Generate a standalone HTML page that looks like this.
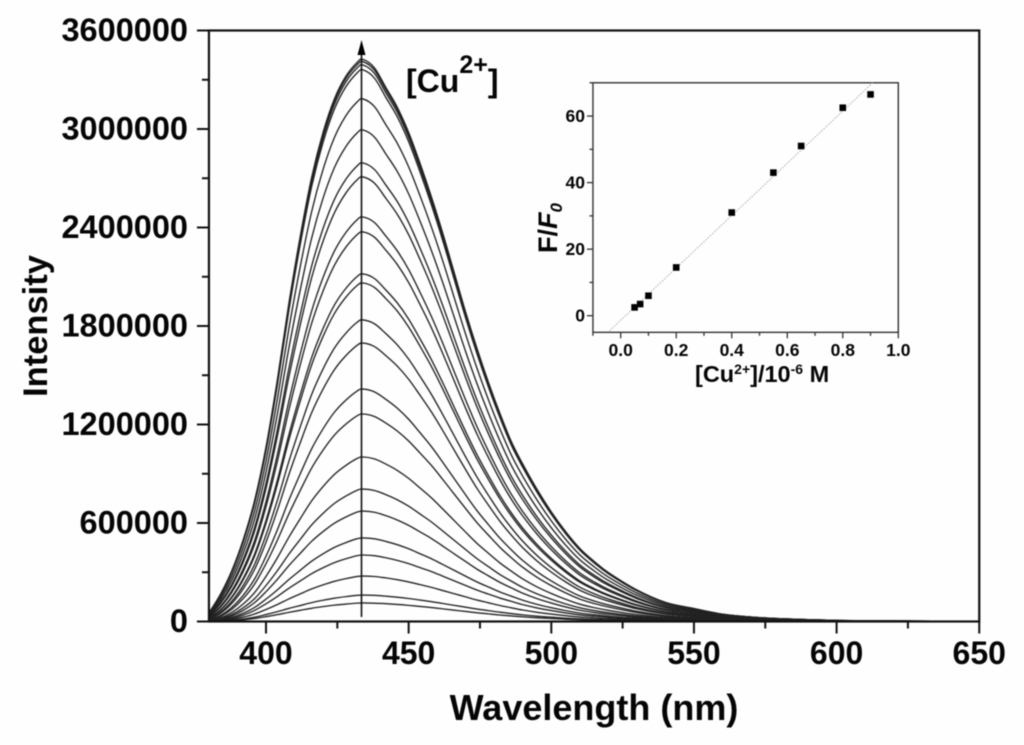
<!DOCTYPE html>
<html lang="en">
<head>
<meta charset="utf-8">
<title>Fluorescence spectra with Cu2+ titration</title>
<style>
html,body{margin:0;padding:0;background:#fefefe;width:1024px;height:745px;overflow:hidden}
svg{display:block;filter:blur(0.45px)}
text{font-family:"Liberation Sans",sans-serif;font-weight:bold;fill:#050505}
</style>
</head>
<body>
<svg id="chart" xmlns="http://www.w3.org/2000/svg" width="1024" height="745" viewBox="0 0 1024 745">
  <g id="curves"></g>
  <g id="axes"></g>
  <line x1="361.5" y1="617" x2="361.5" y2="50" stroke="#111" stroke-width="1.6"/>
  <polygon points="361.5,40 357.5,55 365.5,55" fill="#000"/>
  <text x="406" y="92" font-size="32">[Cu<tspan font-size="25" dy="-19">2+</tspan><tspan dy="19">]</tspan></text>
  <text x="594" y="720" font-size="36" text-anchor="middle">Wavelength (nm)</text>
  <text transform="translate(47,326) rotate(-90)" font-size="34.5" text-anchor="middle">Intensity</text>
  <g id="inset"></g>
  <text x="695" y="382" font-size="23.5">[Cu<tspan font-size="14" dy="-8">2+</tspan><tspan dy="8">]/10</tspan><tspan font-size="14" dy="-8">-6</tspan><tspan dy="8"> M</tspan></text>
  <text transform="translate(557,253) rotate(-90)" font-size="27">F/<tspan font-style="italic">F</tspan><tspan font-style="italic" font-size="17" dy="5">0</tspan></text>
</svg>
<script>
// Main chart data
const wavelengths = [380,384,388,392,396,400,404,408,412,416,420,424,428,432,434,438,442,446,450,454,458,462,466,470,474,478,482,486,490,495,500,505,510,515,520,530,540,550,560,570,580,600,620,650];
const shapeStrong = [.015,.048,.09,.145,.215,.31,.43,.565,.685,.79,.87,.93,.97,.995,1,.985,.95,.915,.87,.815,.755,.69,.62,.55,.485,.425,.37,.32,.28,.235,.195,.16,.13,.107,.087,.056,.034,.023,.013,.008,.005,.002,.001,0];
const shapeWeak = [.002,.01,.04,.09,.16,.26,.37,.49,.6,.71,.8,.88,.94,.99,1,.99,.96,.92,.87,.81,.75,.68,.61,.54,.47,.41,.35,.3,.25,.2,.16,.125,.095,.075,.06,.035,.02,.012,.007,.004,.002,0,0,0];
const peakIntensities = [3424000,3410000,3390000,3360000,3183000,2994000,2793000,2708000,2464000,2373000,2117000,2062000,1837000,1696000,1416000,1264000,1002000,807000,673000,509000,405000,277000,161000,113000];
const xTicks = [400,450,500,550,600,650];
const xMinorTicks = [425,475,525,575,625];
const yTicks = [0,600000,1200000,1800000,2400000,3000000,3600000];
const yMinorTicks = [300000,900000,1500000,2100000,2700000,3300000];

// Inset data
const concentrations = [0.05,0.07,0.1,0.2,0.4,0.55,0.65,0.8,0.9];
const ratios = [2.5,3.5,6,14.5,31,43,51,62.5,66.5];
const fitX = [-0.04,0.908];
const fitY = [-4.5,70];
const insetXTicks = [0,0.2,0.4,0.6,0.8,1];
const insetXMinor = [-0.1,0.1,0.3,0.5,0.7,0.9];
const insetYTicks = [0,20,40,60];
const insetYMinor = [10,30,50,70];

const NS = 'http://www.w3.org/2000/svg';
const xScale = w => 266 + (w - 400) * 2.853;
const yScale = v => 621.5 - v * 98.5 / 600000;
const ixScale = v => 620.7 + v * 277.6;
const iyScale = v => 315.7 - v * 3.3275;
const maxPeak = Math.max(...peakIntensities);

function make(tag, parent) {
  const el = document.createElementNS(NS, tag);
  parent.appendChild(el);
  return el;
}
function drawLine(parent, x1, y1, x2, y2, color, width) {
  const el = make('line', parent);
  el.setAttribute('x1', x1);
  el.setAttribute('y1', y1);
  el.setAttribute('x2', x2);
  el.setAttribute('y2', y2);
  el.setAttribute('stroke', color);
  el.setAttribute('stroke-width', width);
  return el;
}
function drawLabel(parent, x, y, str, size, anchor) {
  const el = make('text', parent);
  el.setAttribute('x', x);
  el.setAttribute('y', y);
  el.setAttribute('font-size', size);
  el.setAttribute('text-anchor', anchor);
  el.textContent = str;
  return el;
}
function smoothPath(pts) {
  let d = 'M' + pts[0][0].toFixed(2) + ' ' + pts[0][1].toFixed(2);
  for (let i = 0; i < pts.length - 1; i++) {
    const p0 = pts[Math.max(i - 1, 0)], p1 = pts[i], p2 = pts[i + 1], p3 = pts[Math.min(i + 2, pts.length - 1)];
    const c1x = p1[0] + (p2[0] - p0[0]) / 6, c1y = p1[1] + (p2[1] - p0[1]) / 6;
    const c2x = p2[0] - (p3[0] - p1[0]) / 6, c2y = p2[1] - (p3[1] - p1[1]) / 6;
    d += 'C' + c1x.toFixed(2) + ' ' + c1y.toFixed(2) + ' ' + c2x.toFixed(2) + ' ' + c2y.toFixed(2) + ' ' + p2[0].toFixed(2) + ' ' + p2[1].toFixed(2);
  }
  return d;
}

// Spectra
const curvesGroup = document.getElementById('curves');
peakIntensities.forEach((peak) => {
  const mix = peak / maxPeak;
  const pts = wavelengths.map((w, i) => [xScale(w), yScale(peak * (shapeWeak[i] * (1 - mix) + shapeStrong[i] * mix))]);
  const path = make('path', curvesGroup);
  
  
  path.setAttribute('d', smoothPath(pts));
  path.setAttribute('fill', 'none');
  path.setAttribute('stroke', '#222');
  path.setAttribute('stroke-width', '1.35');
});

// Main axes
const axesGroup = document.getElementById('axes');
const frame = make('rect', axesGroup);


frame.setAttribute('x', xScale(380));
frame.setAttribute('y', yScale(3600000));
frame.setAttribute('width', xScale(650) - xScale(380));
frame.setAttribute('height', yScale(0) - yScale(3600000));
frame.setAttribute('fill', 'none');
frame.setAttribute('stroke', '#111');
frame.setAttribute('stroke-width', '2.2');

xTicks.forEach((t) => {
  const tick = drawLine(axesGroup, xScale(t), yScale(0), xScale(t), yScale(0) + 12, '#111', 2);
  
  
  const label = drawLabel(axesGroup, xScale(t), 664, String(t), 32, 'middle');
  
  
});
xMinorTicks.forEach((t) => {
  const tick = drawLine(axesGroup, xScale(t), yScale(0), xScale(t), yScale(0) + 7, '#111', 2);
  
  
});
yTicks.forEach((t) => {
  const tick = drawLine(axesGroup, xScale(380), yScale(t), xScale(380) - 12, yScale(t), '#111', 2);
  
  
  const label = drawLabel(axesGroup, 188, yScale(t) + 10.5, String(t), 32.5, 'end');
  
  
});
yMinorTicks.forEach((t) => {
  const tick = drawLine(axesGroup, xScale(380), yScale(t), xScale(380) - 7, yScale(t), '#111', 2);
  
  
});

// Inset
const insetGroup = document.getElementById('inset');
const insetFrame = make('rect', insetGroup);


insetFrame.setAttribute('x', ixScale(-0.1));
insetFrame.setAttribute('y', iyScale(70));
insetFrame.setAttribute('width', ixScale(1) - ixScale(-0.1));
insetFrame.setAttribute('height', iyScale(-5) - iyScale(70));
insetFrame.setAttribute('fill', 'none');
insetFrame.setAttribute('stroke', '#333');
insetFrame.setAttribute('stroke-width', '1.4');

insetXTicks.forEach((t) => {
  const tick = drawLine(insetGroup, ixScale(t), iyScale(-5), ixScale(t), iyScale(-5) + 6, '#333', 1.3);
  
  
  const label = drawLabel(insetGroup, ixScale(t), 356, t.toFixed(1), 17.5, 'middle');
  
  
});
insetXMinor.forEach((t) => {
  const tick = drawLine(insetGroup, ixScale(t), iyScale(-5), ixScale(t), iyScale(-5) + 3.5, '#333', 1.3);
  
  
});
insetYTicks.forEach((t) => {
  const tick = drawLine(insetGroup, ixScale(-0.1), iyScale(t), ixScale(-0.1) - 6, iyScale(t), '#333', 1.3);
  
  
  const label = drawLabel(insetGroup, 585, iyScale(t) + 6, String(t), 17.5, 'end');
  
  
});
insetYMinor.forEach((t) => {
  const tick = drawLine(insetGroup, ixScale(-0.1), iyScale(t), ixScale(-0.1) - 3.5, iyScale(t), '#333', 1.3);
  
  
});

const fitLine = drawLine(insetGroup, ixScale(fitX[0]), iyScale(fitY[0]), ixScale(fitX[1]), iyScale(fitY[1]), '#aaaaaa', 1);


fitLine.setAttribute('stroke-dasharray', '1.5 1.5');

concentrations.forEach((c, i) => {
  const marker = make('rect', insetGroup);
  
  
  marker.setAttribute('x', ixScale(c) - 3.3);
  marker.setAttribute('y', iyScale(ratios[i]) - 3.3);
  marker.setAttribute('width', 6.6);
  marker.setAttribute('height', 6.6);
  marker.setAttribute('fill', '#000');
});
</script>
</body>
</html>
